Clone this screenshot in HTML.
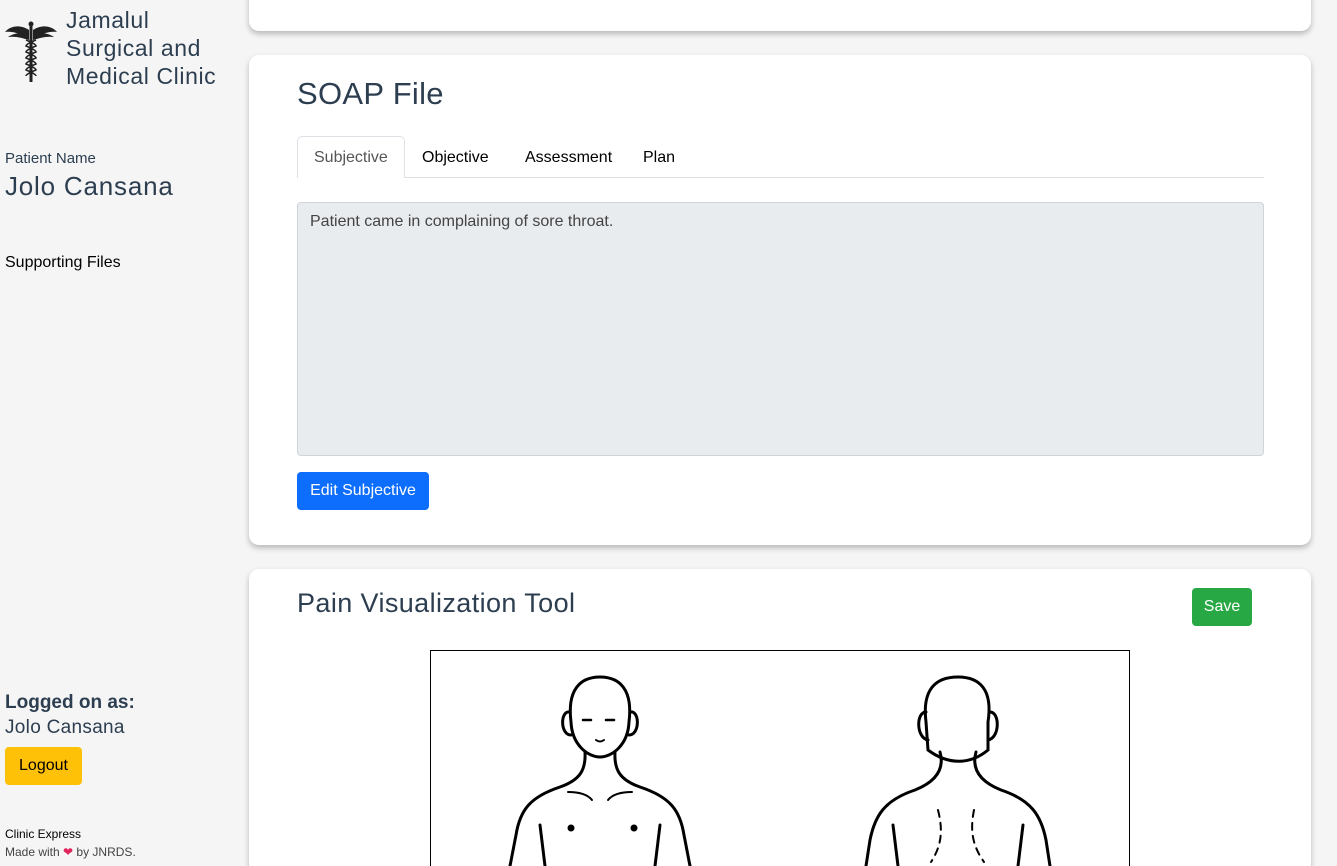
<!DOCTYPE html>
<html><head><meta charset="utf-8"><style>
*{box-sizing:border-box;margin:0;padding:0}
html,body{width:1337px;height:866px;overflow:hidden}
body{background:#f5f5f5;font-family:"Liberation Sans",sans-serif;position:relative;color:#000}
.abs{position:absolute}
.card{position:absolute;left:249px;width:1062px;background:#fff;border-radius:10px;box-shadow:0 3px 6px rgba(0,0,0,.25)}
.t{white-space:nowrap}
</style></head><body>
<svg class="abs" style="left:4px;top:20px" width="54" height="64" viewBox="0 0 54 64">
<g fill="#222"><circle cx="27" cy="4" r="2.5"/><rect x="25.5" y="4" width="3" height="58"/>
<path d="M25 10 C16 4 6 6 1 12 C8 11 14 13 25 18Z"/><path d="M29 10 C38 4 48 6 53 12 C46 11 40 13 29 18Z"/>
<path d="M25 14 C18 12 10 13 4 17 C12 16 18 18 25 20Z"/><path d="M29 14 C36 12 44 13 50 17 C42 16 36 18 29 20Z"/></g>
<g fill="none" stroke="#222" stroke-width="1.6"><path d="M22 20 q10 4 10 6 q-10 4 -10 6 q10 4 10 6 q-10 4 -10 6 q10 4 10 6 q-10 4 -10 6"/><path d="M32 20 q-10 4 -10 6 q10 4 10 6 q-10 4 -10 6 q10 4 10 6 q-10 4 -10 6 q10 4 10 6"/></g>
</svg>
<div class="abs" style="left:66px;top:6px;font-size:23px;line-height:28px;color:#2c3e50;letter-spacing:0.6px">Jamalul<br>Surgical and<br>Medical Clinic</div>
<div class="abs t" style="left:5px;top:150px;font-size:15px;color:#2c3e50">Patient Name</div>
<div class="abs t" style="left:5px;top:171px;font-size:26px;color:#2c3e50;letter-spacing:0.8px">Jolo Cansana</div>
<div class="abs t" style="left:5px;top:254px;font-size:16px">Supporting Files</div>
<div class="abs t" style="left:5px;top:692px;font-size:19px;font-weight:bold;color:#2c3e50">Logged on as:</div>
<div class="abs t" style="left:5px;top:717px;font-size:19px;color:#2c3e50;letter-spacing:0.3px">Jolo Cansana</div>
<div class="abs" style="left:5px;top:747px;width:77px;height:38px;background:#ffc107;border-radius:4px;font-size:16px;line-height:38px;text-align:center">Logout</div>
<div class="abs t" style="left:5px;top:827px;font-size:12px">Clinic Express</div>
<div class="abs t" style="left:5px;top:845px;font-size:12px;color:#444">Made with <span style="color:#e0245e">❤</span> by JNRDS.</div>

<div class="card" style="top:-20px;height:51px"></div>
<div class="card" style="top:55px;height:490px">
<div class="abs t" style="left:48px;top:21px;font-size:31px;color:#2c3e50;letter-spacing:0.3px">SOAP File</div>
<div class="abs" style="left:48px;top:122px;width:967px;height:1px;background:#dee2e6"></div>
<div class="abs" style="left:48px;top:81px;width:108px;height:42px;background:#fff;border:1px solid #dee2e6;border-bottom:none;border-radius:5px 5px 0 0"></div>
<div class="abs t" style="left:65px;top:94px;font-size:16px;color:#555">Subjective</div>
<div class="abs t" style="left:173px;top:94px;font-size:16px">Objective</div>
<div class="abs t" style="left:276px;top:94px;font-size:16px">Assessment</div>
<div class="abs t" style="left:394px;top:94px;font-size:16px">Plan</div>
<div class="abs" style="left:48px;top:147px;width:967px;height:254px;background:#e9ecef;border:1px solid #ced4da;border-radius:4px"></div>
<div class="abs t" style="left:61px;top:158px;font-size:16px;color:#444">Patient came in complaining of sore throat.</div>
<div class="abs" style="left:48px;top:417px;width:132px;height:38px;background:#0d6efd;border-radius:4px;color:#fff;font-size:16px;line-height:38px;text-align:center">Edit Subjective</div>
</div>
<div class="card" style="top:569px;height:320px">
<div class="abs t" style="left:48px;top:19px;font-size:27px;color:#2c3e50;letter-spacing:0.4px">Pain Visualization Tool</div>
<div class="abs" style="left:943px;top:19px;width:60px;height:38px;background:#28a745;border-radius:4px;color:#fff;font-size:16px;line-height:38px;text-align:center">Save</div>
</div>
<svg class="abs" style="left:430px;top:650px" width="700" height="216" viewBox="430 650 700 216">
<rect x="430.5" y="650.5" width="699" height="230" fill="#fff" stroke="#000"/>
<g fill="none" stroke="#000" stroke-width="3" stroke-linecap="round">
<path d="M571 722 C567 690 580 677 600 677 C620 677 633 690 629 722 C628 745 612 757 600 757 C588 757 572 745 571 722Z"/>
<path d="M570 712 C560 710 560 735 571 735"/><path d="M630 712 C640 710 640 735 629 735"/>
<path d="M585 752 C586 770 580 780 560 787 C530 797 520 810 516 835 L510 866"/>
<path d="M615 752 C614 770 620 780 640 787 C670 797 680 810 684 835 L690 866"/>
<path d="M540 825 L545 866"/><path d="M660 825 L655 866"/>
<path d="M568 792 C580 792 588 795 592 800" stroke-width="2"/><path d="M632 792 C620 792 612 795 608 800" stroke-width="2"/>
<path d="M583 720 h8 M606 720 h8" stroke-width="2.5"/><path d="M596 740 q4 3 8 0" stroke-width="2"/>
<path d="M926 722 C922 690 935 677 958 677 C980 677 993 690 988 722 L988 750 C970 765 948 765 928 750Z"/>
<path d="M926 712 C916 712 916 738 928 740"/><path d="M990 712 C1000 712 1000 738 988 740"/>
<path d="M940 752 C945 770 935 782 915 790 C885 800 875 815 870 840 L866 866"/>
<path d="M976 752 C971 770 981 782 1001 790 C1031 800 1041 815 1046 840 L1050 866"/>
<path d="M893 825 L898 866"/><path d="M1023 825 L1018 866"/>
<path d="M938 810 C943 830 942 845 931 862" stroke-width="2" stroke-dasharray="7 6"/>
<path d="M974 810 C970 830 972 845 984 862" stroke-width="2" stroke-dasharray="7 6"/>
</g>
<g fill="#000"><circle cx="571" cy="828" r="3.5"/><circle cx="634" cy="828" r="3.5"/></g>
</svg>
</body></html>
